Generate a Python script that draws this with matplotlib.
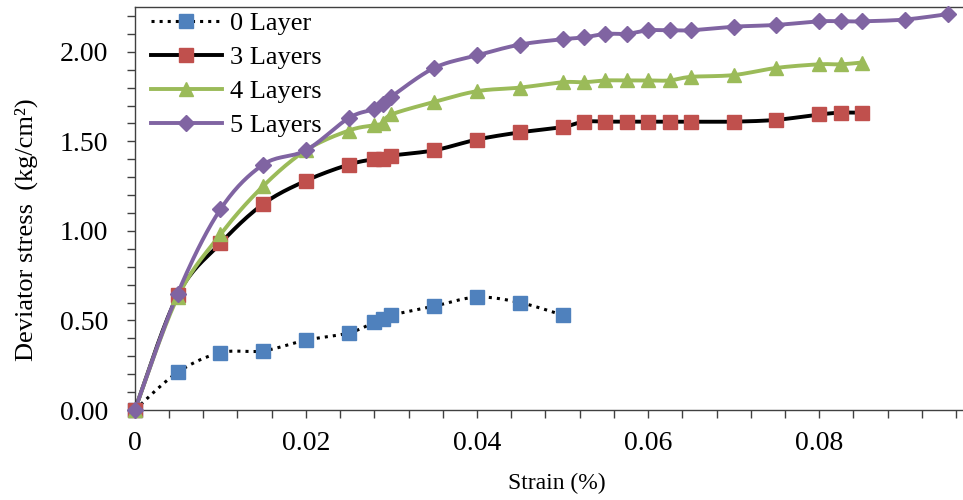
import numpy as np
import matplotlib
matplotlib.use("Agg")
import matplotlib.pyplot as plt
from matplotlib.ticker import MultipleLocator, FormatStrFormatter

# strain values (%)
strain_0 = [0, 0.005, 0.01, 0.015, 0.02, 0.025, 0.028, 0.029, 0.03, 0.035, 0.04, 0.045, 0.05]
stress_0 = [0, 0.21, 0.32, 0.33, 0.39, 0.43, 0.49, 0.51, 0.53, 0.58, 0.63, 0.60, 0.53]

strain_3 = [0, 0.005, 0.01, 0.015, 0.02, 0.025, 0.028, 0.029, 0.03, 0.035, 0.04, 0.045, 0.05,
            0.0525, 0.055, 0.0575, 0.06, 0.0625, 0.065, 0.07, 0.075, 0.08, 0.0825, 0.085]
stress_3 = [0, 0.64, 0.93, 1.15, 1.28, 1.37, 1.40, 1.40, 1.42, 1.45, 1.51, 1.55, 1.58,
            1.61, 1.61, 1.61, 1.61, 1.61, 1.61, 1.61, 1.62, 1.65, 1.66, 1.66]

strain_4 = strain_3
stress_4 = [0, 0.63, 0.98, 1.25, 1.45, 1.56, 1.59, 1.60, 1.65, 1.72, 1.78, 1.80, 1.83,
            1.83, 1.84, 1.84, 1.84, 1.84, 1.86, 1.87, 1.91, 1.93, 1.93, 1.94]

strain_5 = strain_3 + [0.09, 0.095]
stress_5 = [0, 0.65, 1.12, 1.37, 1.45, 1.63, 1.68, 1.71, 1.75, 1.91, 1.98, 2.04, 2.07,
            2.08, 2.10, 2.10, 2.12, 2.12, 2.12, 2.14, 2.15, 2.17, 2.17, 2.17, 2.18, 2.21]

labels = ["0 Layer", "3 Layers", "4 Layers", "5 Layers"]


# smooth line like excel (bezier through the points)
def smooth(x, y, n=20):
    x = np.asarray(x, float)
    y = np.asarray(y, float)
    px = np.concatenate([[x[0]], x, [x[-1]]])
    py = np.concatenate([[y[0]], y, [y[-1]]])
    xs, ys = [], []
    t = np.linspace(0, 1, n)
    for i in range(1, len(px) - 2):
        p0 = np.array([px[i], py[i]])
        p3 = np.array([px[i + 1], py[i + 1]])
        p1 = p0 + (np.array([px[i + 1], py[i + 1]]) - np.array([px[i - 1], py[i - 1]])) / 6
        p2 = p3 - (np.array([px[i + 2], py[i + 2]]) - np.array([px[i], py[i]])) / 6
        b = ((1 - t) ** 3)[:, None] * p0 + (3 * (1 - t) ** 2 * t)[:, None] * p1 \
            + (3 * (1 - t) * t ** 2)[:, None] * p2 + (t ** 3)[:, None] * p3
        xs.extend(b[:, 0])
        ys.extend(b[:, 1])
    return xs, ys


plt.rcParams['font.family'] = ['Liberation Serif', 'DejaVu Serif']

fig = plt.figure(figsize=(9.63, 5.0), dpi=100)
ax = fig.add_axes([0.140, 0.18, 0.86, 0.806])

series = [
    (strain_0, stress_0, 'black', ':', 2.2, 's', '#4F81BD', 10),
    (strain_3, stress_3, 'black', '-', 2.8, 's', '#C0504D', 10),
    (strain_4, stress_4, '#9BBB59', '-', 2.8, '^', '#9BBB59', 10),
    (strain_5, stress_5, '#8064A2', '-', 2.8, 'D', '#8064A2', 8),
]

handles = []
for (x, y, lc, ls, lw, mk, mc, ms), lab in zip(series, labels):
    sx, sy = smooth(x, y)
    ax.plot(sx, sy, color=lc, ls=ls, lw=lw, clip_on=False, zorder=2)
    ax.plot(x, y, ls='none', marker=mk, ms=ms, color=mc, mec=mc, clip_on=False, zorder=3)
    h, = ax.plot([], [], color=lc, ls=ls, lw=lw, marker=mk, ms=ms, mfc=mc, mec=mc)
    handles.append(h)

ax.set_xlim(0, 0.0968)
ax.set_ylim(0, 2.25)
ax.xaxis.set_major_locator(MultipleLocator(0.02))
ax.xaxis.set_minor_locator(MultipleLocator(0.004))
ax.yaxis.set_major_locator(MultipleLocator(0.5))
ax.yaxis.set_minor_locator(MultipleLocator(0.1))
ax.yaxis.set_major_formatter(FormatStrFormatter('%.2f'))
ax.set_xticks([0, 0.02, 0.04, 0.06, 0.08])
ax.set_xticklabels(['0', '0.02', '0.04', '0.06', '0.08'])

for s in ['left', 'bottom', 'top']:
    ax.spines[s].set_color('#404040')
    ax.spines[s].set_linewidth(1.0)
ax.spines['right'].set_visible(False)
ax.tick_params(which='both', direction='out', length=6, width=1, color='#404040')
ax.tick_params(axis='y', labelsize=20, pad=13)
ax.tick_params(axis='x', labelsize=20, pad=9)

ax.set_xlabel('Strain (%)', fontsize=17)
ax.xaxis.set_label_coords(0.51, -0.155)
ax.set_ylabel('Deviator stress  (kg/cm\u00b2)', fontsize=19)
ax.yaxis.set_label_coords(-0.117, 0.447)

ax.legend(handles, labels, loc='upper left', bbox_to_anchor=(0.0, 1.028), frameon=False,
          fontsize=19, handlelength=2.7, labelspacing=0.4, borderaxespad=0.2, handletextpad=0.3)

fig.savefig('out.png', dpi=100)
